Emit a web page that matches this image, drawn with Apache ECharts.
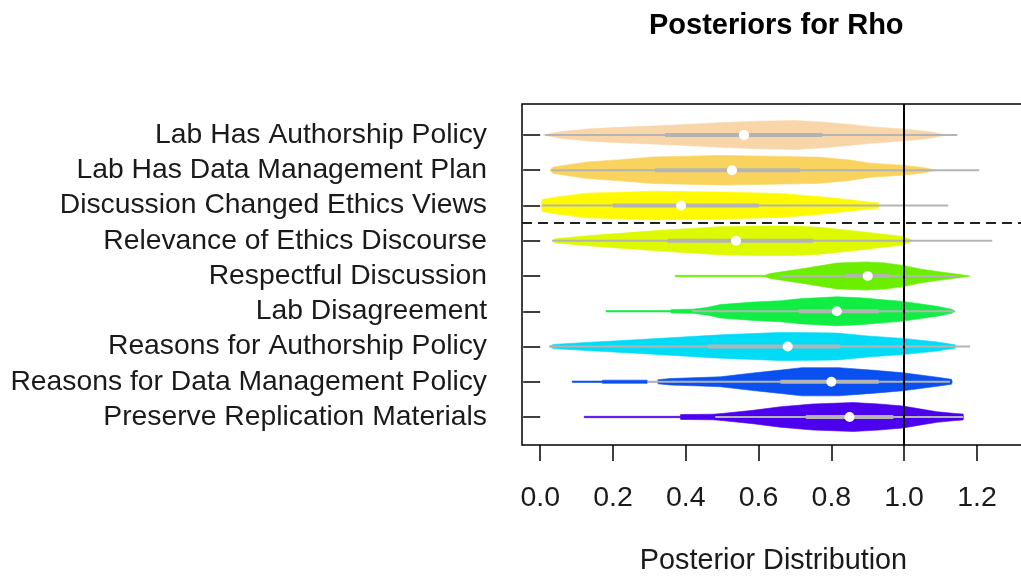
<!DOCTYPE html>
<html><head><meta charset="utf-8">
<script src="https://cdn.jsdelivr.net/npm/echarts@6/dist/echarts.min.js"></script>
<style>html,body{margin:0;padding:0;background:#fff}#c{width:1021px;height:577px}</style>
</head><body><div id="c"></div>
<script>
// Categories, listed top to bottom
const categories = [
  'Lab Has Authorship Policy',
  'Lab Has Data Management Plan',
  'Discussion Changed Ethics Views',
  'Relevance of Ethics Discourse',
  'Respectful Discussion',
  'Lab Disagreement',
  'Reasons for Authorship Policy',
  'Reasons for Data Management Policy',
  'Preserve Replication Materials'
];
const colors = ['#F8D6AA', '#F9D35E', '#FFFA00', '#DDFA00', '#6CEE00', '#10EE44', '#00DCF6', '#0A50F0', '#4C00EE'];
const medians   = [0.56, 0.527, 0.387, 0.538, 0.90, 0.815, 0.68, 0.80, 0.85];
const boxLow    = [0.343, 0.316, 0.20, 0.35, 0.838, 0.71, 0.459, 0.66, 0.73];
const boxHigh   = [0.775, 0.714, 0.60, 0.75, 0.959, 0.93, 0.824, 0.93, 0.97];
const whiskLow  = [0.014, 0.03, 0.005, 0.033, 0.66, 0.418, 0.025, 0.294, 0.481];
const whiskHigh = [1.146, 1.206, 1.121, 1.242, 1.146, 1.135, 1.181, 1.126, 1.162];
// density profile: positions along rho and half-widths (in category units)
const densX = [
  [0.008, 0.055, 0.129, 0.2, 0.31, 0.4, 0.495, 0.6, 0.7, 0.77, 0.85, 0.907, 0.997, 1.07, 1.118],
  [0.027, 0.036, 0.129, 0.22, 0.31, 0.495, 0.63, 0.77, 0.85, 0.907, 0.997, 1.05, 1.09],
  [0.003, 0.005, 0.05, 0.129, 0.31, 0.495, 0.66, 0.77, 0.85, 0.907, 0.929, 0.93],
  [0.033, 0.041, 0.129, 0.31, 0.495, 0.6, 0.69, 0.77, 0.907, 0.997, 1.025],
  [0.371, 0.618, 0.632, 0.723, 0.816, 0.898, 0.948, 0.997, 1.044, 1.09, 1.154, 1.181],
  [0.181, 0.357, 0.36, 0.42, 0.46, 0.495, 0.585, 0.66, 0.72, 0.816, 0.88, 0.997, 1.09, 1.13, 1.14],
  [0.025, 0.036, 0.129, 0.31, 0.495, 0.66, 0.77, 0.816, 0.9, 0.997, 1.09, 1.14, 1.143],
  [0.088, 0.17, 0.171, 0.294, 0.295, 0.322, 0.324, 0.357, 0.44, 0.495, 0.585, 0.66, 0.72, 0.82, 0.91, 0.997, 1.09, 1.13, 1.132],
  [0.121, 0.385, 0.386, 0.475, 0.5, 0.585, 0.66, 0.75, 0.86, 0.93, 0.997, 1.09, 1.14, 1.162, 1.163]
];
const densW = [
  [0, 0.09, 0.17, 0.21, 0.255, 0.3, 0.35, 0.39, 0.41, 0.37, 0.3, 0.235, 0.17, 0.095, 0],
  [0, 0.09, 0.235, 0.3, 0.375, 0.42, 0.4, 0.37, 0.29, 0.2, 0.14, 0.08, 0],
  [0, 0.17, 0.25, 0.35, 0.405, 0.38, 0.34, 0.25, 0.16, 0.09, 0.08, 0],
  [0, 0.06, 0.14, 0.28, 0.4, 0.42, 0.42, 0.38, 0.23, 0.12, 0],
  [0.02, 0.02, 0.07, 0.21, 0.37, 0.4, 0.37, 0.3, 0.2, 0.13, 0.04, 0],
  [0.02, 0.02, 0.05, 0.06, 0.11, 0.19, 0.26, 0.3, 0.36, 0.41, 0.38, 0.28, 0.14, 0.06, 0],
  [0, 0.06, 0.115, 0.22, 0.33, 0.4, 0.39, 0.38, 0.3, 0.23, 0.13, 0.05, 0],
  [0.02, 0.02, 0.045, 0.045, 0, 0, 0.06, 0.09, 0.12, 0.14, 0.25, 0.33, 0.4, 0.4, 0.33, 0.255, 0.13, 0.07, 0],
  [0.02, 0.02, 0.07, 0.08, 0.1, 0.19, 0.29, 0.37, 0.41, 0.37, 0.31, 0.15, 0.1, 0.085, 0]
];
const xTicks = [0, 0.2, 0.4, 0.6, 0.8, 1.0, 1.2];
const refValue = 1.0;
const groupSplit = 6.5;

const n = categories.length;
const pos = categories.map((c, i) => n - i);
const yTicks = pos.slice();
const FONT = 'Liberation Sans, Arial, Helvetica, sans-serif';
const GREY = '#B4B4B4';

const chart = echarts.init(document.getElementById('c'), null, {renderer: 'canvas'});

function violinItem(params, api) {
  const i = params.dataIndex;
  const p = pos[i];
  const xs = densX[i], ws = densW[i];
  const pts = [];
  for (let k = 0; k < xs.length; k++) pts.push(api.coord([xs[k], p + ws[k]]));
  for (let k = xs.length - 1; k >= 0; k--) pts.push(api.coord([xs[k], p - ws[k]]));
  return {
    type: 'polygon',
    shape: {points: pts},
    style: {fill: colors[i], stroke: colors[i], lineWidth: 0.6}
  };
}
function boxItem(params, api) {
  const i = params.dataIndex;
  const p = pos[i];
  const a = api.coord([whiskLow[i], p]), b = api.coord([whiskHigh[i], p]);
  const c = api.coord([boxLow[i], p]), d = api.coord([boxHigh[i], p]);
  return {
    type: 'group',
    children: [
      {type: 'line', shape: {x1: a[0], y1: a[1], x2: b[0], y2: b[1]}, style: {stroke: GREY, lineWidth: 2}},
      {type: 'line', shape: {x1: c[0], y1: c[1], x2: d[0], y2: d[1]}, style: {stroke: GREY, lineWidth: 4}}
    ]
  };
}

const option = {
  backgroundColor: '#fff',
  animation: false,
  title: {
    text: 'Posteriors for Rho',
    left: 644, top: 6,
    textStyle: {fontFamily: FONT, fontSize: 29, fontWeight: 'bold', color: '#000'}
  },
  grid: {
    left: 522, top: 104, width: 503, height: 341,
    outerBoundsMode: 'none', containLabel: false,
    show: true, borderColor: '#000', borderWidth: 1.5, backgroundColor: 'transparent'
  },
  xAxis: {
    type: 'value', min: -0.05, max: 1.332,
    name: 'Posterior Distribution', nameLocation: 'middle', nameGap: 102,
    nameTextStyle: {fontFamily: FONT, fontSize: 28.8, color: '#1a1a1a', lineHeight: 29},
    axisLine: {show: false},
    axisTick: {show: true, inside: false, length: 16, customValues: xTicks, lineStyle: {color: '#000', width: 1.5}},
    axisLabel: {customValues: xTicks, margin: 39, fontFamily: FONT, fontSize: 28.5, lineHeight: 28, color: '#1a1a1a',
      formatter: v => v.toFixed(1)},
    splitLine: {show: false}
  },
  yAxis: {
    type: 'value', min: 0.206, max: 9.879,
    axisLine: {show: false},
    axisTick: {show: true, inside: false, length: 17, customValues: yTicks, lineStyle: {color: '#000', width: 1.5}},
    axisLabel: {customValues: yTicks, margin: 35, fontFamily: FONT, fontSize: 28.3, color: '#1a1a1a',
      formatter: v => categories[n - Math.round(v)]},
    splitLine: {show: false}
  },
  series: [
    {type: 'custom', name: 'density', renderItem: violinItem, data: categories.map((c, i) => [medians[i], pos[i]]), z: 2, silent: true},
    {type: 'custom', name: 'box', renderItem: boxItem, data: categories.map((c, i) => [medians[i], pos[i]]), z: 3, silent: true},
    {
      type: 'scatter', name: 'median', data: categories.map((c, i) => [medians[i], pos[i]]),
      symbol: 'circle', symbolSize: 10, itemStyle: {color: '#fff', opacity: 1}, z: 5, silent: true,
      markLine: {
        silent: true, symbol: ['none', 'none'], label: {show: false},
        data: [
          {xAxis: refValue, lineStyle: {color: '#000', width: 2, type: 'solid'}},
          {yAxis: groupSplit, lineStyle: {color: '#222', width: 1.8, type: [10, 6]}}
        ]
      }
    }
  ]
};
chart.setOption(option);
</script>
</body></html>
